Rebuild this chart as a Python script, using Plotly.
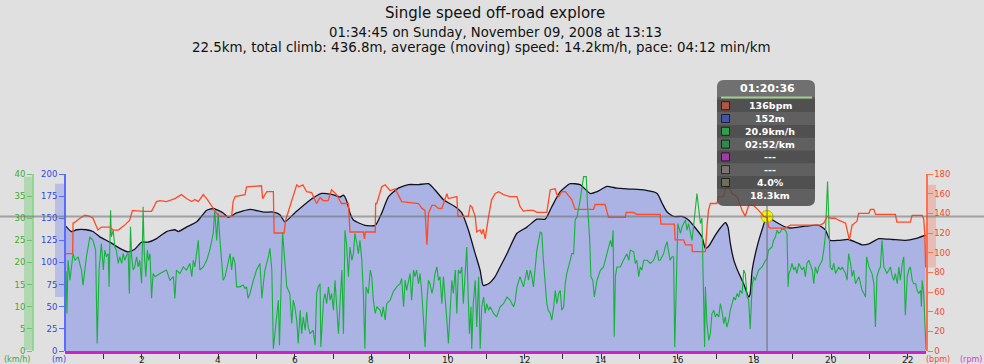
import plotly.graph_objects as go

TITLE = "Single speed off-road explore"
SUB1 = "01:34:45 on Sunday, November 09, 2008 at 13:13"
SUB2 = "22.5km, total climb: 436.8m, average (moving) speed: 14.2km/h, pace: 04:12 min/km"

# (km, metres)
ELEVATION = [(0.00, 142), (0.17, 135), (0.30, 137), (0.56, 137), (0.73, 135), (0.91, 129), (1.17, 123), (1.43, 116),
             (1.65, 112), (1.82, 115), (2.00, 123), (2.17, 123), (2.39, 127), (2.65, 135), (2.87, 137), (2.96, 135),
             (3.17, 140), (3.44, 146), (3.70, 159), (3.87, 161), (4.13, 156), (4.26, 151), (4.48, 156), (4.83, 160),
             (5.18, 157), (5.44, 157), (5.61, 154), (5.74, 146), (6.00, 156), (6.35, 169), (6.70, 178), (6.96, 177),
             (7.18, 174), (7.27, 176), (7.36, 169), (7.44, 156), (7.53, 148), (7.83, 142), (8.10, 142), (8.27, 156),
             (8.44, 174), (8.70, 184), (8.97, 188), (9.23, 188), (9.49, 189), (9.66, 182), (9.88, 171), (10.19, 163),
             (10.36, 156), (10.53, 137), (10.71, 110), (10.84, 91), (10.92, 74), (11.06, 76), (11.23, 84), (11.36, 95),
             (11.54, 110), (11.80, 133), (12.06, 140), (12.32, 149), (12.54, 149), (12.71, 163), (12.93, 180),
             (13.19, 189), (13.45, 188), (13.71, 178), (13.89, 180), (14.15, 186), (14.41, 184), (14.76, 183),
             (15.11, 182), (15.46, 178), (15.59, 167), (15.72, 157), (15.89, 152), (16.11, 152), (16.28, 148),
             (16.46, 139), (16.63, 129), (16.72, 116), (16.80, 118), (16.98, 131), (17.11, 139), (17.24, 145),
             (17.31, 140), (17.37, 122), (17.46, 103), (17.59, 88), (17.72, 76), (17.85, 61), (17.89, 65), (17.94, 91),
             (18.07, 118), (18.20, 137), (18.33, 152), (18.55, 146), (18.81, 140), (18.98, 139), (19.33, 141),
             (19.68, 142), (19.85, 137), (19.98, 125), (20.20, 125), (20.46, 126), (20.81, 120), (20.99, 121),
             (21.25, 127), (21.60, 126), (21.94, 125), (22.20, 127), (22.47, 131)]

# (km, bpm)
HEART_RATE = [(0.02, 99), (0.20, 99), (0.21, 130), (0.26, 131), (0.39, 135), (0.52, 138), (0.65, 137), (0.73, 135),
              (0.86, 123), (0.95, 126), (1.17, 126), (1.26, 123), (1.39, 123), (1.56, 128), (1.69, 133), (1.76, 143),
              (2.04, 142), (2.26, 142), (2.39, 152), (2.48, 153), (2.65, 152), (2.78, 154), (2.87, 155), (3.04, 159),
              (3.17, 155), (3.31, 152), (3.39, 154), (3.48, 152), (3.61, 159), (3.70, 155), (3.83, 148), (3.96, 140),
              (4.04, 137), (4.35, 137), (4.39, 152), (4.44, 157), (4.70, 159), (4.74, 167), (5.13, 168), (5.16, 155),
              (5.27, 162), (5.44, 162), (5.46, 120), (5.72, 120), (5.76, 133), (5.87, 147), (6.05, 169), (6.11, 167),
              (6.21, 169), (6.31, 162), (6.44, 161), (6.57, 150), (6.66, 156), (6.74, 153), (6.87, 153), (6.96, 164),
              (7.09, 159), (7.22, 150), (7.40, 150), (7.44, 121), (7.79, 121), (7.82, 114), (7.84, 121), (8.10, 121),
              (8.11, 150), (8.14, 150), (8.27, 167), (8.36, 169), (8.49, 163), (8.62, 165), (8.79, 152), (9.23, 150),
              (9.32, 145), (9.40, 143), (9.45, 108), (9.49, 140), (9.58, 148), (9.66, 148), (9.75, 145), (9.84, 145),
              (9.92, 154), (9.97, 160), (10.01, 155), (10.23, 157), (10.26, 137), (10.53, 137), (10.58, 148),
              (10.62, 147), (10.71, 137), (10.75, 121), (10.84, 123), (10.88, 119), (10.92, 124), (10.97, 114),
              (11.06, 137), (11.14, 154), (11.23, 160), (11.32, 162), (11.45, 159), (11.62, 157), (11.80, 157),
              (11.88, 147), (11.97, 142), (12.06, 143), (12.23, 143), (12.32, 141), (12.58, 141), (12.67, 164),
              (12.80, 165), (12.84, 159), (12.89, 157), (12.97, 162), (13.06, 162), (13.23, 154), (13.32, 144),
              (13.80, 144), (13.84, 149), (14.10, 149), (14.19, 136), (14.63, 136), (14.65, 141), (14.84, 141),
              (14.93, 139), (15.54, 139), (15.56, 129), (15.91, 129), (15.93, 113), (16.15, 113), (16.20, 108),
              (16.37, 108), (16.38, 101), (16.72, 101), (16.76, 125), (16.80, 143), (16.85, 150), (17.02, 150),
              (17.07, 157), (17.20, 157), (17.24, 165), (17.33, 167), (17.42, 160), (17.55, 157), (17.68, 143),
              (17.76, 137), (17.85, 148), (17.98, 148), (18.11, 143), (18.24, 137), (18.33, 136), (18.37, 126),
              (18.42, 125), (18.81, 125), (18.94, 128), (19.72, 128), (19.81, 130), (19.90, 137), (19.98, 135),
              (20.11, 135), (20.20, 133), (20.38, 130), (20.48, 113), (20.55, 128), (20.68, 132), (20.72, 140),
              (20.99, 140), (21.03, 144), (21.12, 144), (21.16, 139), (21.68, 139), (21.72, 131), (22.07, 131),
              (22.12, 138), (22.38, 138), (22.42, 134), (22.45, 118), (22.47, 85)]

# (km, km/h)
SPEED = [(0.00, 8), (0.03, 18), (0.05, 8.5), (0.08, 20.5), (0.13, 16), (0.17, 19.8), (0.21, 22), (0.26, 20.5),
         (0.34, 21.3), (0.43, 18.3), (0.47, 14.9), (0.56, 21.3), (0.65, 25.8), (0.73, 25), (0.80, 22.8), (0.84, 1.7),
         (0.89, 18.3), (0.95, 24.3), (1.00, 18.3), (1.04, 22.8), (1.08, 21.3), (1.13, 22), (1.15, 14.5), (1.19, 31.8),
         (1.21, 25.8), (1.26, 27.3), (1.30, 23.5), (1.34, 22.8), (1.39, 19.8), (1.43, 21.3), (1.48, 19.8), (1.52, 22),
         (1.56, 20.5), (1.61, 21.7), (1.65, 22), (1.68, 13), (1.71, 28.1), (1.74, 21.3), (1.78, 18.3), (1.82, 19),
         (1.87, 21.3), (1.91, 19), (1.95, 20.5), (2.00, 15.3), (2.04, 32.6), (2.07, 22), (2.11, 16.8), (2.15, 22.8),
         (2.18, 20.5), (2.22, 22), (2.26, 11.9), (2.30, 17.5), (2.35, 16.8), (2.48, 17.5), (2.65, 18.3), (2.74, 16),
         (2.83, 16.8), (2.87, 11.9), (2.91, 18.3), (3.00, 17.5), (3.09, 19), (3.17, 18.3), (3.26, 19.8), (3.31, 16.8),
         (3.35, 20.5), (3.39, 19), (3.44, 22), (3.48, 25), (3.52, 18.3), (3.61, 19), (3.70, 20.5), (3.78, 22.8),
         (3.87, 26.6), (3.91, 31.8), (3.96, 25), (4.00, 31.1), (4.04, 25.8), (4.09, 21.3), (4.13, 16), (4.18, 16.8),
         (4.22, 18.3), (4.26, 19.8), (4.31, 22), (4.35, 18.3), (4.39, 21.3), (4.44, 19.8), (4.48, 14.5), (4.57, 14.5),
         (4.65, 14.9), (4.70, 14.1), (4.74, 14.5), (4.78, 11.9), (4.83, 13), (4.92, 16), (5.00, 18.3), (5.09, 19.8),
         (5.14, 11.9), (5.18, 15.3), (5.22, 18.3), (5.31, 21.3), (5.35, 23.2), (5.40, 18.3), (5.42, 12.2),
         (5.44, 0.5), (5.57, 11.5), (5.60, 1.3), (5.68, 26.9), (5.74, 20.5), (5.79, 14.5), (5.87, 13), (5.92, 6.2),
         (5.96, 11.5), (6.00, 10), (6.05, 7), (6.09, 1.7), (6.14, 9.2), (6.18, 3.9), (6.22, 7.7), (6.27, 4.7),
         (6.31, 8.8), (6.35, 5.4), (6.40, 3.9), (6.48, 4.7), (6.53, 1.3), (6.57, 13), (6.61, 14.5), (6.66, 15.2),
         (6.68, 0.9), (6.75, 11.5), (6.79, 13), (6.83, 10.7), (6.88, 14.5), (6.92, 11.5), (6.96, 13), (7.01, 9.2),
         (7.05, 16), (7.09, 10), (7.14, 3.9), (7.18, 10.7), (7.23, 18.3), (7.27, 3.9), (7.31, 27.3), (7.35, 24.3),
         (7.40, 16.8), (7.44, 23.5), (7.49, 20.5), (7.53, 22), (7.57, 26.6), (7.62, 24.3), (7.66, 22), (7.70, 25),
         (7.75, 20.5), (7.79, 13), (7.83, 0.5), (7.86, 14.5), (7.92, 13), (7.97, 18.3), (8.01, 16.8), (8.05, 11.5),
         (8.10, 8.5), (8.14, 10), (8.23, 9.2), (8.27, 7.7), (8.31, 10), (8.36, 7), (8.40, 10.7), (8.49, 11.5),
         (8.57, 13.4), (8.66, 14.5), (8.75, 15.2), (8.79, 16.4), (8.84, 10), (8.88, 16), (8.92, 13.7), (9.01, 17.5),
         (9.05, 11.5), (9.10, 18.3), (9.14, 16.8), (9.18, 18.3), (9.23, 15.2), (9.27, 17.5), (9.31, 13.7), (9.36, 7),
         (9.40, 0.9), (9.45, 11.5), (9.49, 16), (9.53, 15.2), (9.58, 13), (9.62, 14.5), (9.66, 17.5), (9.71, 19),
         (9.75, 16), (9.79, 16.8), (9.84, 10.7), (9.88, 16.8), (9.92, 13), (9.97, 7), (10.01, 1.7), (10.06, 11.5),
         (10.10, 16), (10.14, 13), (10.19, 18.3), (10.23, 8.5), (10.27, 18.3), (10.32, 17.5), (10.36, 19),
         (10.40, 10.7), (10.45, 17.5), (10.49, 23.5), (10.53, 11.5), (10.56, 3.9), (10.60, 10), (10.62, 0.5),
         (10.66, 10.7), (10.71, 16), (10.75, 5.4), (10.80, 16.8), (10.84, 0.5), (10.88, 10), (10.93, 12.2),
         (10.97, 8.5), (11.01, 10.7), (11.06, 9.2), (11.10, 10), (11.19, 8.5), (11.27, 7.7), (11.36, 10),
         (11.45, 10.7), (11.54, 12.2), (11.62, 11.5), (11.71, 10), (11.75, 11.1), (11.80, 14.5), (11.88, 16.8),
         (11.97, 14.5), (12.06, 18.3), (12.10, 16), (12.15, 18.3), (12.19, 16.8), (12.23, 14.5), (12.28, 19),
         (12.32, 22.8), (12.41, 26.9), (12.45, 26.6), (12.49, 20.5), (12.54, 13.7), (12.58, 10.7), (12.62, 9.2),
         (12.67, 8.5), (12.71, 7), (12.76, 10), (12.80, 13.7), (12.84, 10.7), (12.89, 13), (12.93, 13.7),
         (12.97, 9.2), (13.02, 10), (13.06, 15.2), (13.10, 17.5), (13.19, 20.5), (13.23, 22), (13.28, 22),
         (13.32, 29.6), (13.37, 30.3), (13.45, 34.1), (13.54, 39.4), (13.61, 39.4), (13.64, 33.4), (13.70, 25),
         (13.73, 16.8), (13.78, 16), (13.82, 12.2), (13.89, 16), (13.98, 18.3), (14.06, 19), (14.15, 22),
         (14.24, 25), (14.28, 23.5), (14.31, 27.3), (14.34, 3.2), (14.37, 16.8), (14.41, 19), (14.50, 19),
         (14.58, 20.5), (14.63, 21.3), (14.67, 22), (14.72, 20.5), (14.76, 22.8), (14.85, 22.4), (14.89, 19.8),
         (14.93, 20.5), (14.98, 16.8), (15.02, 19), (15.06, 18.3), (15.11, 20.5), (15.20, 20.5), (15.28, 19.8),
         (15.37, 20.5), (15.46, 22.8), (15.50, 20.5), (15.54, 20.5), (15.63, 22), (15.67, 23.5), (15.72, 24.7),
         (15.76, 22.4), (15.80, 20.5), (15.85, 21.3), (15.89, 21.3), (15.92, 0.9), (15.96, 13), (16.00, 28.8),
         (16.07, 26.6), (16.11, 28.1), (16.20, 29.6), (16.24, 27.3), (16.28, 28.8), (16.37, 25), (16.41, 28.1),
         (16.50, 35.6), (16.55, 31.8), (16.59, 28.8), (16.63, 30), (16.68, 9.2), (16.70, 0.9), (16.72, 14.5),
         (16.76, 6.2), (16.81, 2.4), (16.85, 3.9), (16.89, 8.4), (16.94, 9.2), (16.98, 7.7), (17.02, 8.4),
         (17.07, 7.7), (17.11, 10.7), (17.15, 9.2), (17.20, 6.2), (17.24, 7.7), (17.28, 5.4), (17.33, 6.9),
         (17.37, 9.2), (17.42, 10.7), (17.46, 12.2), (17.50, 11.5), (17.55, 13), (17.59, 12.2), (17.63, 13.7),
         (17.68, 13), (17.72, 18.3), (17.76, 17.5), (17.81, 12.2), (17.85, 11.5), (17.89, 5.0), (17.94, 14.5),
         (17.98, 16.8), (18.02, 16), (18.11, 18.3), (18.20, 19), (18.24, 19.8), (18.29, 20.5), (18.33, 20.9),
         (18.37, 22.8), (18.46, 23.5), (18.50, 25), (18.55, 25.8), (18.59, 27.3), (18.63, 26.6), (18.68, 26.9),
         (18.72, 27.7), (18.81, 27.3), (18.85, 26.6), (18.88, 14.5), (18.90, 17.5), (18.94, 18.3), (18.98, 19.8),
         (19.03, 18.3), (19.07, 19), (19.11, 17.5), (19.16, 19.8), (19.24, 18.3), (19.29, 19), (19.33, 16.8),
         (19.37, 19.8), (19.42, 20.5), (19.51, 18.3), (19.55, 15.2), (19.59, 19), (19.64, 17.5), (19.68, 19),
         (19.77, 20.5), (19.81, 22.8), (19.85, 25.8), (19.91, 38.3), (19.94, 27.3), (19.98, 19), (20.03, 18.3),
         (20.07, 19.8), (20.12, 17.5), (20.16, 18.3), (20.20, 19), (20.25, 18.3), (20.29, 19), (20.33, 18.3),
         (20.38, 17.5), (20.42, 16), (20.46, 22), (20.51, 19.8), (20.55, 16.8), (20.59, 18.3), (20.64, 15.2),
         (20.68, 16), (20.73, 16.8), (20.77, 15.2), (20.81, 13.7), (20.86, 13), (20.90, 12.2), (20.93, 21.3),
         (20.99, 19), (21.07, 17.5), (21.12, 15.2), (21.16, 5.4), (21.20, 16.8), (21.25, 18.3), (21.29, 19),
         (21.33, 25), (21.38, 19), (21.42, 18.3), (21.46, 17.5), (21.51, 18.3), (21.55, 19), (21.60, 16.8),
         (21.64, 16), (21.68, 17.5), (21.73, 15.2), (21.77, 19), (21.81, 16), (21.86, 19.8), (21.90, 21.3),
         (21.94, 8.1), (21.99, 16.8), (22.03, 18.3), (22.07, 19), (22.12, 16), (22.16, 15.2), (22.21, 15.2),
         (22.25, 13.7), (22.29, 13), (22.34, 13.7), (22.36, 10), (22.38, 16), (22.42, 13), (22.47, 1.6), (22.48, 0.2)]

X_TICKS = list(range(1, 23))
X_LABELS = [v for v in X_TICKS if v % 2 == 0]

CURSOR_KM = 18.33
CURSOR_ELEV = 152
TIP_TIME = "01:20:36"
TIP_ROWS = ["136bpm", "152m", "20.9km/h", "02:52/km", "---", "---", "4.0%", "18.3km"]
TIP_SWATCHES = ["#b5553f", "#4453b2", "#2f9f49", "#2e8a4d", "#a13aa9", "#7d756d", "#6f6f57", None]

elev_km, elev_m = zip(*ELEVATION)
hr_km, hr_bpm = zip(*HEART_RATE)
spd_km, spd_kmh = zip(*SPEED)

# ---- page geometry (pixels) ----
W, H = 984, 364
ML, MR, MT, MB = 10, 10, 174, 13
PW, PH = W - ML - MR, H - MT - MB


def fx(x):
    return (x - ML) / PW


def fy(y):
    return (H - MB - y) / PH


FONT = "DejaVu Sans"
BG = "#e0e0e0"
GREEN_T, BLUE_T, RED_T, MAG_T = "#3eaa2a", "#3344e6", "#f4492c", "#d23ad2"

fig = go.Figure()
fig.add_trace(go.Scatter(x=elev_km, y=elev_m, yaxis="y", mode="lines", fill="tozeroy",
                         fillcolor="#aab3e3", line=dict(color="#111122", width=1.3, shape="spline", smoothing=0.5),
                         hoverinfo="skip"))
fig.add_trace(go.Scatter(x=hr_km, y=hr_bpm, yaxis="y3", mode="lines",
                         line=dict(color="#ff4a24", width=1.3), hoverinfo="skip"))
fig.add_trace(go.Scatter(x=spd_km, y=spd_kmh, yaxis="y2", mode="lines",
                         line=dict(color="#16b23a", width=1.1), hoverinfo="skip"))
fig.add_trace(go.Scatter(x=[CURSOR_KM], y=[CURSOR_ELEV], yaxis="y", mode="markers", cliponaxis=False,
                         marker=dict(size=12, color="#f4f400", line=dict(color="#b8b800", width=1)),
                         hoverinfo="skip"))

common_y = dict(showgrid=False, zeroline=False, ticks="outside", ticklen=5, tickwidth=1,
                showline=True, fixedrange=True, automargin=False)

fig.update_layout(
    width=W, height=H, margin=dict(l=ML, r=MR, t=MT, b=MB, autoexpand=False),
    paper_bgcolor=BG, plot_bgcolor=BG, showlegend=False,
    font=dict(family=FONT, size=9, color="#222"),
    xaxis=dict(domain=[fx(65), fx(926)], range=[0, 22.48], tickvals=X_TICKS, showticklabels=False,
               ticks="outside", ticklen=5, tickcolor="#333",
               showline=True, linecolor="#cc22cc", linewidth=3, showgrid=False, zeroline=False,
               fixedrange=True, automargin=False),
    yaxis=dict(range=[0, 200], dtick=25, anchor="free", position=fx(65), side="left",
               linecolor="#5a6cff", linewidth=2, tickcolor="#5a6cff",
               tickfont=dict(size=8.5, color=BLUE_T), **common_y),
    yaxis2=dict(range=[0, 40], dtick=5, overlaying="y", anchor="free", position=fx(33), side="left",
                linecolor="#8fd88f", linewidth=2, tickcolor="#6cc46c",
                tickfont=dict(size=8.5, color=GREEN_T), **common_y),
    yaxis3=dict(range=[0, 180], dtick=20, overlaying="y", anchor="free", position=fx(926), side="right",
                linecolor="#ff7050", linewidth=1.5, tickcolor="#ff7050",
                tickfont=dict(size=8.5, color=RED_T), **common_y),
    yaxis4=dict(range=[0, 0.2], tickvals=[0, 0.2], ticktext=["0", "0.2"], overlaying="y", anchor="free",
                position=fx(958), side="right", linecolor="#e060e0", linewidth=1.5, tickcolor="#e060e0",
                tickfont=dict(size=8.5, color=MAG_T), **common_y),
)

shapes = []
# data-range bands beside the axes
shapes.append(dict(type="rect", xref="paper", yref="paper", x0=fx(24), x1=fx(33),
                   y0=min(spd_kmh) / 40, y1=max(spd_kmh) / 40, fillcolor="rgba(90,200,90,0.35)",
                   line=dict(width=0), layer="below"))
shapes.append(dict(type="rect", xref="paper", yref="paper", x0=fx(55), x1=fx(65),
                   y0=min(elev_m) / 200, y1=max(elev_m) / 200, fillcolor="rgba(110,125,235,0.35)",
                   line=dict(width=0), layer="below"))
shapes.append(dict(type="rect", xref="paper", yref="paper", x0=fx(926), x1=fx(936),
                   y0=min(hr_bpm) / 180, y1=max(hr_bpm) / 180, fillcolor="rgba(240,120,100,0.35)",
                   line=dict(width=0), layer="below"))
# crosshair
shapes.append(dict(type="line", xref="paper", yref="paper", x0=fx(0), x1=fx(W),
                   y0=CURSOR_ELEV / 200, y1=CURSOR_ELEV / 200,
                   line=dict(color="rgba(110,110,110,0.55)", width=2)))
shapes.append(dict(type="line", xref="x", yref="paper", x0=CURSOR_KM, x1=CURSOR_KM,
                   y0=0, y1=fy(206), line=dict(color="rgba(110,110,110,0.7)", width=1.5)))


# tooltip box (pixel geometry converted to paper)
def rounded(x0, y0, x1, y1, r):
    X0, X1, Y0, Y1 = fx(x0), fx(x1), fy(y1), fy(y0)
    rx, ry = r / PW, r / PH
    return (f"M {X0+rx},{Y1} L {X1-rx},{Y1} Q {X1},{Y1} {X1},{Y1-ry} L {X1},{Y0+ry} "
            f"Q {X1},{Y0} {X1-rx},{Y0} L {X0+rx},{Y0} Q {X0},{Y0} {X0},{Y0+ry} "
            f"L {X0},{Y1-ry} Q {X0},{Y1} {X0+rx},{Y1} Z")


TX0, TX1, TY0, TY1 = 717, 815, 80, 206
shapes.append(dict(type="path", xref="paper", yref="paper", path=rounded(TX0, TY0, TX1, TY1, 7),
                   fillcolor="rgba(72,72,72,0.84)", line=dict(width=0)))
shapes.append(dict(type="path", xref="paper", yref="paper",
                   path=(f"M {fx(TX0)},{fy(97)} L {fx(TX0)},{fy(TY0+7)} Q {fx(TX0)},{fy(TY0)} {fx(TX0+7)},{fy(TY0)} "
                         f"L {fx(TX1-7)},{fy(TY0)} Q {fx(TX1)},{fy(TY0)} {fx(TX1)},{fy(TY0+7)} L {fx(TX1)},{fy(97)} Z"),
                   fillcolor="rgba(255,255,255,0.10)", line=dict(width=0)))
shapes.append(dict(type="rect", xref="paper", yref="paper", x0=fx(721), x1=fx(812), y0=fy(98.6), y1=fy(96.4),
                   fillcolor="#9fd08a", line=dict(width=0)))
ROW0, ROWH = 99.3, 12.8
for i, (txt, col) in enumerate(zip(TIP_ROWS, TIP_SWATCHES)):
    top = ROW0 + i * ROWH
    if i % 2 == 0:
        shapes.append(dict(type="rect", xref="paper", yref="paper", x0=fx(TX0), x1=fx(TX1),
                           y0=fy(top + ROWH), y1=fy(top), fillcolor="rgba(0,0,0,0.16)", line=dict(width=0)))
    cy = top + ROWH / 2
    if col:
        shapes.append(dict(type="rect", xref="paper", yref="paper", x0=fx(721.5), x1=fx(729.5),
                           y0=fy(cy + 4), y1=fy(cy - 4), fillcolor=col,
                           line=dict(color="rgba(20,20,20,0.8)", width=1)))

annotations = []


def label(x, y, text, size, color, weight_bold=False):
    t = f"<b>{text}</b>" if weight_bold else text
    annotations.append(dict(xref="paper", yref="paper", x=fx(x), y=fy(y), text=t, showarrow=False,
                            xanchor="center", yanchor="middle",
                            font=dict(size=size, color=color, family=FONT)))


label(767, 88.5, TIP_TIME, 11, "white", True)
for i, txt in enumerate(TIP_ROWS):
    label(770, ROW0 + i * ROWH + ROWH / 2, txt, 9.5, "white", True)

# titles
label(495, 13, TITLE, 15, "#111")
label(495, 32.5, SUB1, 13.2, "#111")
label(481, 47, SUB2, 13.4, "#111")

# unit labels below axes
for txt, xpx, col in [("(km/h)", 16.5, GREEN_T), ("(m)", 59, BLUE_T), ("(bpm)", 937.5, RED_T),
                      ("(rpm)", 970.5, MAG_T)]:
    label(xpx, 359, txt, 8, col)

# x-axis tick labels placed on the data axis just below the tick marks
for v in X_LABELS:
    annotations.append(dict(xref="x", yref="paper", x=v, y=fy(360), text=str(v), showarrow=False,
                            xanchor="center", yanchor="middle",
                            font=dict(size=9, color="#222", family=FONT)))

fig.update_layout(shapes=shapes, annotations=annotations)
fig.write_html("out.html", config={"displayModeBar": False, "staticPlot": True},
               post_script="document.body.style.margin='0px';document.body.style.overflow='hidden';"
                           "document.body.style.background='#e0e0e0';")
